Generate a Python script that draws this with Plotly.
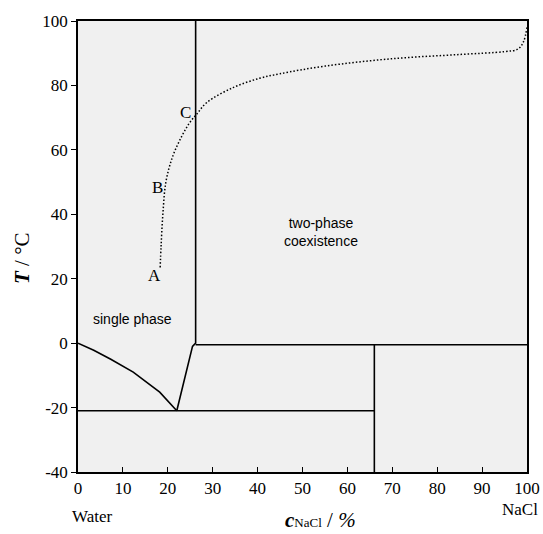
import plotly.graph_objects as go

# --- data ---
liquidus_x = [0, 3.5, 7.3, 12.3, 18.2, 22.0]
liquidus_t = [0, -2.2, -5.0, -9.0, -15.2, -21.0]

solubility_x = [22.0, 24.0, 25.5, 26.2, 26.2]
solubility_t = [-21.0, -10.0, -1.0, 0.0, 100.0]

solidus_x = [26.2, 100]
solidus_t = [-0.5, -0.5]

eutectic_x = [0, 66]
eutectic_t = [-21.0, -21.0]

hydrate_x = [66, 66]
hydrate_t = [-0.5, -40]

cloud_x = [18.3, 18.5, 18.9, 19.6, 21.1, 23.1, 24.9, 26.4, 28.7, 34.5, 40.4, 44.9,
           55.0, 70.0, 85.0, 95.0, 98.0, 99.2, 100.0]
cloud_t = [23.5, 30.0, 40.0, 50.2, 58.0, 64.2, 68.5, 71.0, 74.7, 79.3, 82.2, 83.6,
           86.0, 88.3, 89.6, 90.5, 91.3, 93.5, 98.0]

x_ticks = [0, 10, 20, 30, 40, 50, 60, 70, 80, 90, 100]
y_ticks = [-40, -20, 0, 20, 40, 60, 80, 100]
y_tick_text = ["-40", "-20", "0", "20", "40", "60", "80", "100"]

point_labels = ["A", "B", "C"]
point_x = [17.1, 17.7, 23.9]
point_t = [21.0, 48.4, 71.6]

fig = go.Figure()
line_style = dict(color="black", width=1.6)
for xs, ts in [(liquidus_x, liquidus_t), (solubility_x, solubility_t),
               (solidus_x, solidus_t), (eutectic_x, eutectic_t), (hydrate_x, hydrate_t)]:
    fig.add_trace(go.Scatter(x=xs, y=ts, mode="lines", line=line_style,
                             hoverinfo="skip", showlegend=False))

fig.add_trace(go.Scatter(x=cloud_x, y=cloud_t, mode="lines", line_shape="spline",
                         line=dict(color="black", width=1.5, dash="1.5px,2px"),
                         hoverinfo="skip", showlegend=False))

serif = "Liberation Serif, Times New Roman, serif"
sans = "Liberation Sans, Arial, sans-serif"

for lab, lx, lt in zip(point_labels, point_x, point_t):
    fig.add_annotation(x=lx, y=lt, text=lab, showarrow=False,
                       xanchor="center", yanchor="middle",
                       font=dict(family=serif, size=17, color="black"))

fig.add_annotation(x=12.1, y=7.4, text="single phase", showarrow=False,
                   xanchor="center", yanchor="middle",
                   font=dict(family=sans, size=14, color="black"))
fig.add_annotation(x=54.2, y=34.4, text="two-phase<br>coexistence", showarrow=False,
                   xanchor="center", yanchor="middle",
                   font=dict(family=sans, size=14, color="black"))

# axis titles and end labels (paper coordinates)
outer = [
    dict(x=-0.1247, y=0.4745, text="<b><i>T</i></b> / °C", textangle=-90, size=21),
    dict(x=0.539, y=-0.107,
         text="<b><i>c</i></b><span style='font-size:13px'>NaCl</span> / <i>%</i>",
         textangle=0, size=21),
    dict(x=0.031, y=-0.0976, text="Water", textangle=0, size=17),
    dict(x=0.984, y=-0.084, text="NaCl", textangle=0, size=17),
]
for a in outer:
    fig.add_annotation(xref="paper", yref="paper", x=a["x"], y=a["y"], text=a["text"],
                       textangle=a["textangle"], showarrow=False,
                       xanchor="center", yanchor="middle",
                       font=dict(family=serif, size=a["size"], color="black"))

fig.update_xaxes(range=[0, 100], tickvals=x_ticks, ticks="inside", ticklen=5,
                 tickwidth=1.2, tickcolor="black", showline=True, linecolor="black",
                 linewidth=1.5, mirror=True, showgrid=False, zeroline=False,
                 automargin=False,
                 tickfont=dict(family=serif, size=17, color="black"))
fig.update_yaxes(range=[-40, 100], tickvals=y_ticks, ticktext=y_tick_text,
                 ticks="outside", ticklen=5, tickwidth=1.2, tickcolor="black",
                 showline=True, linecolor="black", linewidth=1.5, mirror=True,
                 showgrid=False, zeroline=False, automargin=False,
                 tickfont=dict(family=serif, size=17, color="black"))

fig.update_layout(width=543, height=534, margin=dict(l=78, r=16, t=21, b=62),
                  plot_bgcolor="#f0f0f0", paper_bgcolor="white")

fig.write_html("out.html")
